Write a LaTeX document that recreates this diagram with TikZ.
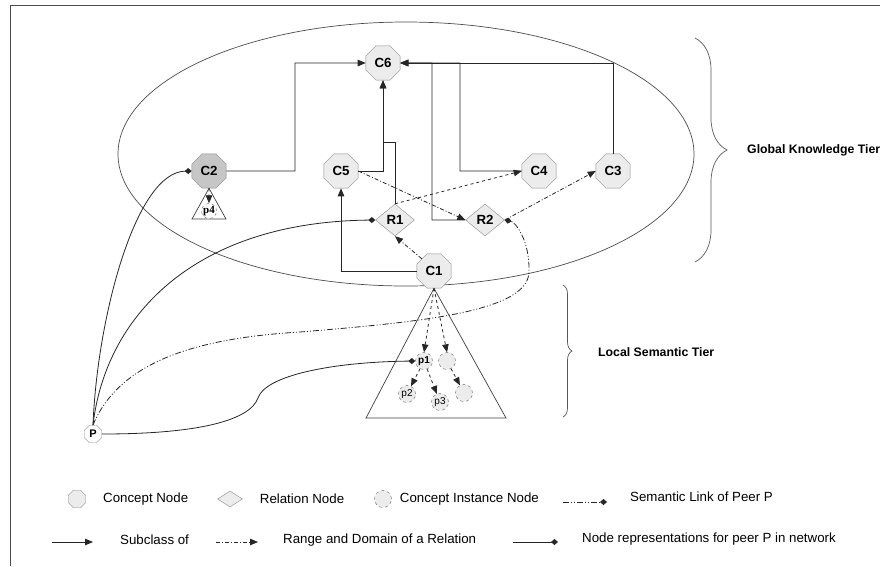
\documentclass[tikz,border=0pt]{standalone}
\usepackage{fontspec}
\setmainfont{Liberation Sans}
\newfontfamily\SerifFont{Liberation Serif}
\usepackage{tikz}
\usetikzlibrary{positioning, shapes.geometric, arrows.meta, decorations.pathreplacing}

\begin{document}
\begin{tikzpicture}[x=1pt, y=-1pt,
	ConceptNode/.style={regular polygon, regular polygon sides=8, draw=gray!90, fill=gray!15, inner sep=0pt, minimum size=37pt, font=\bfseries\fontsize{13.3}{14}\selectfont},
	RelNode/.style={diamond, draw=gray!90, fill=gray!15, inner sep=0pt, minimum width=39pt, minimum height=32pt, font=\bfseries\fontsize{13.3}{14}\selectfont},
	InstNode/.style={circle, dashed, draw=gray!80!black, fill=gray!15, inner sep=0pt, minimum size=17pt, font=\fontsize{10}{10}\selectfont},
	SubArrow/.style={line width=0.8pt, draw=black!85, -{Triangle[length=8pt, width=6.5pt]}},
	RangeArrow/.style={SubArrow, dash pattern=on 4pt off 2pt on 1pt off 2pt},
	InstArrow/.style={SubArrow, dashed},
	PeerLink/.style={line width=0.8pt, draw=black!85, -{Diamond[length=7pt, width=6pt]}},
	SemLink/.style={PeerLink, dash pattern=on 6pt off 2pt on 1pt off 2pt on 1pt off 2pt},
	TriLine/.style={line width=0.7pt, draw=black!75},
	TierBrace/.style={line width=0.7pt, draw=gray!70!black, decorate},
	TierLabel/.style={anchor=west, inner sep=0pt, font=\bfseries\fontsize{12.3}{13}\selectfont},
	LegText/.style={inner sep=0pt, font=\fontsize{13.3}{14}\selectfont}]

	\useasboundingbox (0,0) rectangle (880,566);

	% Frame and tiers
	\draw[line width=0.8pt, gray!60!black] (10,566) -- (10,5) -- (880,5);
	\draw[line width=0.7pt, gray!60!black] (406,154) ellipse [x radius=288pt, y radius=132pt];
	\draw[TierBrace, decoration={brace, amplitude=32pt}] (695,38) -- (695,262);
	\draw[TierBrace, decoration={brace, amplitude=9pt}] (563,285) -- (563,417);
	\node[TierLabel] (GlobalTier) at (747,150) {Global Knowledge Tier};
	\node[TierLabel] (LocalTier) at (598,352) {Local Semantic Tier};

	% Nodes
	\node[ConceptNode] (C6) at (383,63) {C6};
	\node[ConceptNode, fill=gray!45] (C2) at (209,171) {C2};
	\node[ConceptNode] (C5) at (341,171) {C5};
	\node[ConceptNode] (C4) at (539,171) {C4};
	\node[ConceptNode] (C3) at (613,171) {C3};
	\node[RelNode] (R1) at (395,220) {R1};
	\node[RelNode] (R2) at (485,220) {R2};
	\node[ConceptNode] (C1) at (434,271) {C1};
	\node[ConceptNode, minimum size=19pt, fill=white, font=\bfseries\fontsize{11}{11}\selectfont] (P) at (93,434) {P};

	% Instances
	\draw[TriLine, fill=white] (C1.south) -- (506,418) -- (366,418) -- cycle;
	\draw[TriLine, fill=white] (C2.south) -- (226,219) -- (192,219) -- cycle;
	\node[InstNode, font=\bfseries\fontsize{10}{10}\selectfont] (p1) at (424,361) {p1};
	\node[InstNode] (b1) at (447,361) {};
	\node[InstNode] (p2) at (407,394) {p2};
	\node[InstNode] (p3) at (440,402) {p3};
	\node[InstNode] (b2) at (464,393) {};
	\node[InstNode, fill=white, minimum size=14pt, font=\SerifFont\bfseries\fontsize{11}{11}\selectfont] (p4) at (209,211) {p4};

	% Lines
	\draw[SubArrow] (C2.east) -| (295,63) -- (C6.west);
	\draw[SubArrow] (C5.east) -| (C6.south);
	\draw[SubArrow] (R1.north) |- (C6.south |- 0,142) -- (C6.south);
	\draw[SubArrow] (C1.west) -| (C5.south);
	\draw[SubArrow] (C4.west) -- (460,171) |- (C6.east);
	\draw[SubArrow] (C3.north) |- (C6.east);
	\draw[SubArrow] (R2.west) -| (432,63) -- (C6.east);
	\draw[RangeArrow] (C5.east) -- (R2.west);
	\draw[RangeArrow, dashed] (R1.north) -- (C4.west);
	\draw[RangeArrow] (R2.east) -- (C3.west);
	\draw[RangeArrow] (C1.north west) -- (R1.south);
	\draw[InstArrow] (C1.south) -- (p1.north);
	\draw[InstArrow] (C1.south) -- (b1.north);
	\draw[InstArrow] (p1) -- (p2);
	\draw[InstArrow] (p1) -- (p3);
	\draw[InstArrow] (b1) -- (b2);
	\draw[InstArrow] (C2.south) -- (p4.north);

	% Peer P
	\draw[PeerLink] (P.north) .. controls (97,320) and (135,172) .. (C2.west);
	\draw[PeerLink] (P.north) .. controls (105,320) and (190,222) .. (R1.west);
	\draw[PeerLink] (P.east) .. controls (200,434) and (250,420) .. (258,398) .. controls (265,376) and (330,362) .. (p1.west);
	\draw[SemLink] (P.north) .. controls (120,360) and (200,338) .. (300,332) .. controls (420,322) and (528,312) .. (529,272) .. controls (530,240) and (515,222) .. (R2.east);

	% Legend
	\node[ConceptNode, minimum size=19pt] (LegConcept) at (77,499) {};
	\node[LegText, right=17pt of LegConcept] (LegConceptText) {Concept Node};
	\node[RelNode, minimum width=25pt, minimum height=16pt] (LegRel) at (230,499) {};
	\node[LegText, right=17pt of LegRel] (LegRelText) {Relation Node};
	\node[InstNode] (LegInst) at (383,499) {};
	\node[LegText, right=8pt of LegInst] (LegInstText) {Concept Instance Node};
	\coordinate (LegSemA) at (563,502);
	\coordinate (LegSemB) at (607,502);
	\draw[SemLink] (LegSemA) -- (LegSemB);
	\node[LegText, anchor=west] (LegSemText) at (630,497) {Semantic Link of Peer P};

	\coordinate (LegSubA) at (52,542);
	\coordinate (LegSubB) at (93,542);
	\draw[SubArrow] (LegSubA) -- (LegSubB);
	\node[LegText, anchor=west] (LegSubText) at (120,540) {Subclass of};
	\coordinate (LegRangeA) at (216,542);
	\coordinate (LegRangeB) at (258,542);
	\draw[RangeArrow] (LegRangeA) -- (LegRangeB);
	\node[LegText, anchor=west] (LegRangeText) at (283,540) {Range and Domain of a Relation};
	\coordinate (LegPeerA) at (513,542);
	\coordinate (LegPeerB) at (558,542);
	\draw[PeerLink] (LegPeerA) -- (LegPeerB);
	\node[LegText, anchor=west] (LegPeerText) at (582,539) {Node representations for peer P in network};
\end{tikzpicture}
\end{document}
